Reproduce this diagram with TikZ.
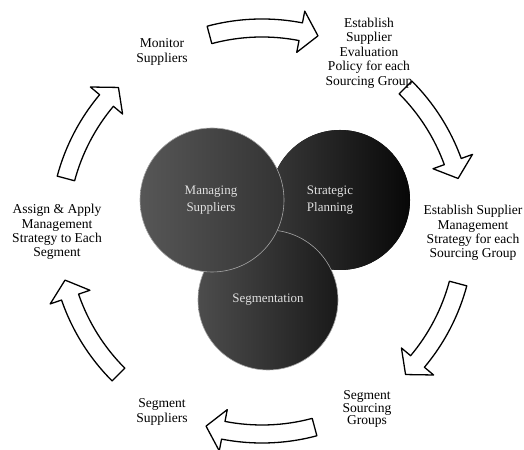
\documentclass[tikz,border=0pt]{standalone}
\usepackage{fontspec}
\setmainfont{Liberation Serif}
\begin{document}
\begin{tikzpicture}[x=1bp,y=1bp,
  steptext/.style={align=center,font=\fontsize{13.6}{14.5}\selectfont,inner sep=0pt},
  ringtext/.style={align=center,font=\fontsize{13}{17}\selectfont,text=white!88!black,inner sep=0pt},
  blockarrow/.style={draw=black,fill=white,line width=1.3pt,line join=round},
  disc/.style={draw=white!65!black,line width=0.6pt}
]
\useasboundingbox (0,0) rectangle (524,450);

% --- three overlapping discs ---
\fill[left color=black!78,right color=black!97] (340,250) circle[radius=70];
\path[disc,left color=black!70,right color=black!90] (268,150) circle[radius=70];
\path[disc,left color=black!66,right color=black!80] (212,250) circle[radius=72];

\node[ringtext] (mng) at (211,249.5) {Managing\\Suppliers};
\node[ringtext] (stp) at (330,249.5) {Strategic\\Planning};
\node[ringtext] (sgm) at (268,150) {Segmentation};

% --- cycle of curved block arrows (clockwise) ---
% #1 tail angle, #2 tip angle
\newcommand{\cyclearrow}[2]{%
  \pgfmathsetmacro{\hb}{#2+5}%
  \draw[blockarrow,shift={(262,219)}]
    (#1:212) arc[start angle=#1, end angle=\hb, radius=212]
    -- (\hb:224) -- (#2:203) -- (\hb:182) -- (\hb:194)
    arc[start angle=\hb, end angle=#1, radius=194] -- cycle;}
\cyclearrow{105}{74}
\cyclearrow{45}{15}
\cyclearrow{-15}{-45}
\cyclearrow{-75}{-106}
\cyclearrow{-135}{-166}
\cyclearrow{165}{135}

% --- step labels ---
\node[steptext] (monitor) at (162,398) {Monitor\\Suppliers};
\node[steptext] (policy) at (369,397) {Establish\\Supplier\\Evaluation\\Policy for each\\Sourcing Group};
\node[steptext] (strategy) at (473,217) {Establish Supplier\\Management\\Strategy for each\\Sourcing Group};
\node[steptext,font=\fontsize{13.6}{11.5}\selectfont] (groups) at (367,41) {Segment\\Sourcing\\Groups};
\node[steptext] (segsup) at (162,38) {Segment\\Suppliers};
\node[steptext] (assign) at (57,218) {Assign \& Apply\\Management\\Strategy to Each\\Segment};
\end{tikzpicture}
\end{document}
